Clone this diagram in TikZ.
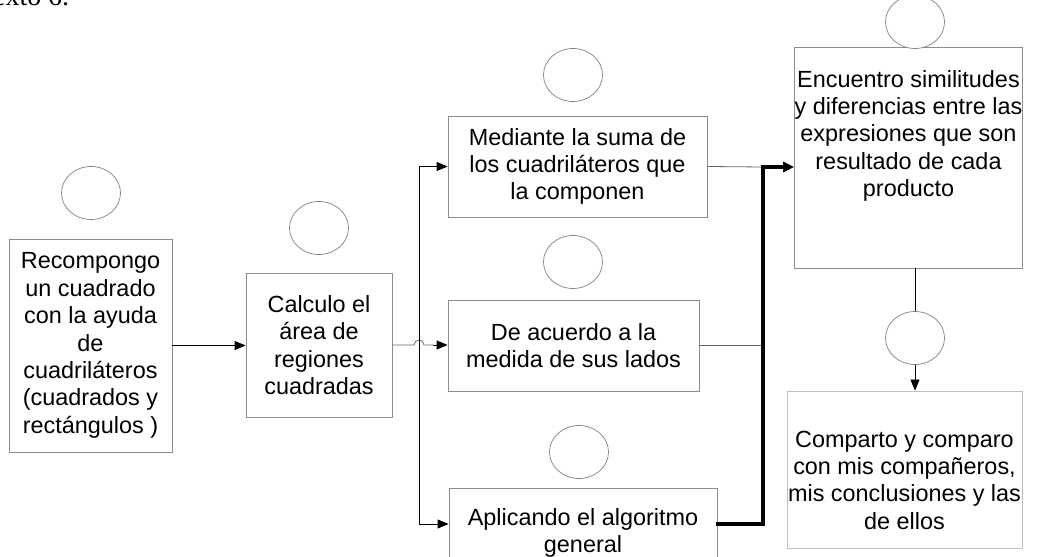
\documentclass[tikz,border=0pt]{standalone}
\usepackage{fontspec}
\setmainfont{Liberation Sans}
\newfontfamily\serifa{Liberation Serif}
\usetikzlibrary{arrows.meta,shapes.geometric}

\tikzset{
  caja/.style={draw=black!45, line width=0.8bp, align=center, inner sep=0pt,
    font=\fontsize{23.5}{27.5}\selectfont},
  burbuja/.style={draw=black!50, line width=0.7bp, ellipse, fill=white,
    minimum width=59bp, minimum height=53bp, inner sep=0pt},
  linea/.style={draw=black!60, line width=0.8bp},
  flecha/.style={draw=black, line width=0.8bp, -{Triangle[length=11bp,width=9bp]}},
  gruesa/.style={draw=black, line width=3.2bp, line cap=rect,
    -{Triangle[length=11bp,width=10bp]}}
}

\begin{document}
\begin{tikzpicture}[x=1bp,y=-1bp]
  \useasboundingbox (0,0) rectangle (1045,557);
%  \draw [help lines] (0,0) grid [step=50] (1045,557);

  % resto del texto de arriba
  \node [anchor=base west, inner sep=0pt, font=\serifa\fontsize{28}{28}\selectfont] (titulo) at (-7,6) {exto 6.};

  \node [caja, minimum width=163bp, minimum height=213bp] (recomp) at (90.5,345.5)
    {Recompongo\\un cuadrado\\con la ayuda\\de\\cuadriláteros\\(cuadrados y\\rectángulos )};
  \node [caja, minimum width=146bp, minimum height=144bp] (calc) at (319,345)
    {Calculo el\\área de\\regiones\\cuadradas};
  \node [caja, minimum width=259bp, minimum height=101bp] (sumas) at (577.5,166.5)
    {Mediante la suma de\\los cuadriláteros que\\la componen};
  \node [caja, minimum width=251bp, minimum height=91bp] (medida) at (573.5,345.5)
    {De acuerdo a la\\medida de sus lados};
  \node [caja, minimum width=268bp, minimum height=90bp] (algor) at (583,533)
    {Aplicando el algoritmo\\general};
  \node [caja, minimum width=223bp, minimum height=221bp, text depth=48bp] (simil) at (908.5,157.5)
    {Encuentro similitudes\\y diferencias entre las\\expresiones que son\\resultado de cada\\producto};
  \node [caja, draw=black!25, minimum width=235bp, minimum height=157bp, text height=120bp] (compa) at (904.5,469.5)
    {Comparto y comparo\\con mis compañeros,\\mis conclusiones y las\\de ellos};

  % burbujas sobre las cajas
  \node [burbuja] (b1) at (91,193) {};
  \node [burbuja] (b2) at (319,228) {};
  \node [burbuja] (b3) at (573,75) {};
  \node [burbuja] (b4) at (573,262) {};
  \node [burbuja] (b5) at (579,452) {};
  \node [burbuja] (b6) at (915,22) {};

  \coordinate (horq) at (419,345);
  \coordinate (union) at (763,167);

  \draw [flecha] (recomp.east) -- (recomp.east -| calc.west);
  \draw [linea] (calc.east) -- ([xshift=-5bp]horq) arc [start angle=180, end angle=0, radius=5bp] -- ([xshift=14bp]horq);
  \draw [flecha] ([xshift=14bp]horq) -- (horq -| medida.west);
  \draw [flecha] (horq) |- (sumas.west);
  \draw [flecha] (horq) |- ([yshift=9bp]algor.west);

  \draw [linea] (sumas.east) -- (union);
  \draw [linea] (medida.east) -- (medida.east -| union);
  \draw [gruesa] ([yshift=9bp]algor.east) -| (union) -- (union -| simil.west);

  \draw [flecha] ([xshift=6.5bp]simil.south) -- ([xshift=6.5bp]simil.south |- compa.north);
  \node [burbuja] (b7) at (915,338) {};
\end{tikzpicture}
\end{document}
